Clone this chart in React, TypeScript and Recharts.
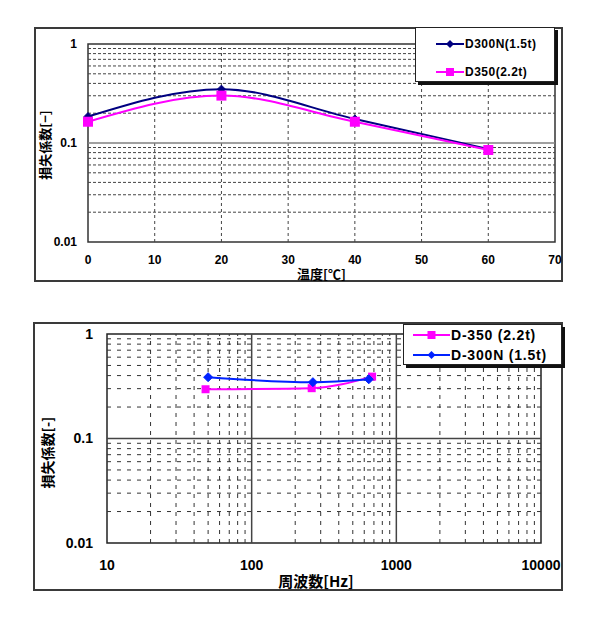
import React from 'react';
import { LineChart, Line, XAxis, YAxis, ReferenceLine, ReferenceArea, Legend } from 'recharts';

// 温度依存 (loss factor vs temperature)
const temperatures = [0, 20, 40, 60];
const d300nByTemp = [0.185, 0.35, 0.175, 0.087];
const d350ByTemp = [0.164, 0.301, 0.164, 0.085];

// 周波数依存 (loss factor vs frequency)
const d350Freq = [48, 260, 680];
const d350ByFreq = [0.296, 0.303, 0.391];
const d300nFreq = [50, 265, 645];
const d300nByFreq = [0.386, 0.346, 0.369];

const tempTicks = [0, 10, 20, 30, 40, 50, 60, 70];
const tempGrid = [10, 20, 30, 40, 50, 60];
const lossTicks = [0.01, 0.1, 1];
const lossMinor = [0.02, 0.03, 0.04, 0.05, 0.06, 0.07, 0.08, 0.09, 0.2, 0.3, 0.4, 0.5, 0.6, 0.7, 0.8, 0.9];
const freqTicks = [10, 100, 1000, 10000];
const freqMajor = [100, 1000];
const freqMinor = [20, 30, 40, 50, 60, 70, 80, 90, 200, 300, 400, 500, 600, 700, 800, 900,
  2000, 3000, 4000, 5000, 6000, 7000, 8000, 9000];

const tempRows = temperatures.map((t, i) => ({ t, d300n: d300nByTemp[i], d350: d350ByTemp[i] }));
const d350Rows = d350Freq.map((f, i) => ({ f, v: d350ByFreq[i] }));
const d300nRows = d300nFreq.map((f, i) => ({ f, v: d300nByFreq[i] }));

const NUM_FONT = '"Liberation Sans", Arial, sans-serif';
const JP_FONT = '"Noto Sans CJK JP", "Liberation Sans", sans-serif';

const diamond = (color: string, r: number) => (p: any) => {
  const { cx, cy, index } = p;
  if (cx == null || cy == null) return <g key={index} />;
  return (
    <polygon key={index} fill={color} stroke={color}
      points={`${cx},${cy - r} ${cx + r},${cy} ${cx},${cy + r} ${cx - r},${cy}`} />
  );
};

const square = (color: string, s: number) => (p: any) => {
  const { cx, cy, index } = p;
  if (cx == null || cy == null) return <g key={index} />;
  return <rect key={index} x={cx - s / 2} y={cy - s / 2} width={s} height={s} fill={color} />;
};

function VTitle(props: any) {
  const { viewBox, text, dx = 0, dy = 0, size = 13 } = props;
  const cx = viewBox.x + dx;
  const cy = viewBox.y + viewBox.height / 2 + dy;
  return (
    <text x={cx} y={cy} transform={`rotate(-90, ${cx}, ${cy})`} textAnchor="middle"
      dominantBaseline="central" fontSize={size} fontWeight="bold" fontFamily={JP_FONT} fill="#000">
      {text}
    </text>
  );
}

function HTitle(props: any) {
  const { viewBox, text, dx = 0, dy = 0, size = 13 } = props;
  return (
    <text x={viewBox.x + viewBox.width / 2 + dx} y={viewBox.y + dy} textAnchor="middle"
      dominantBaseline="central" fontSize={size} fontWeight="bold" fontFamily={JP_FONT} fill="#000">
      {text}
    </text>
  );
}

type LegendItem = { name: string; color: string; marker: 'diamond' | 'square' };

function LegendBox({ items, width, height, rowH, padTop, padLeft, lineLen, markerSize, fontSize, spacing }: any) {
  return (
    <div style={{
      width, height, boxSizing: 'border-box', background: '#fff', border: '1px solid #222',
      boxShadow: '3px 3px 0 #111', paddingTop: padTop, paddingLeft: padLeft,
    }}>
      {items.map((it: LegendItem) => (
        <div key={it.name} style={{ height: rowH, display: 'flex', alignItems: 'center' }}>
          <svg width={lineLen} height={12} style={{ display: 'block' }}>
            <line x1={0} y1={6} x2={lineLen} y2={6} stroke={it.color} strokeWidth={2} />
            {it.marker === 'diamond'
              ? <polygon fill={it.color} points={`${lineLen / 2},${6 - markerSize / 2} ${lineLen / 2 + markerSize / 2},6 ${lineLen / 2},${6 + markerSize / 2} ${lineLen / 2 - markerSize / 2},6`} />
              : <rect x={lineLen / 2 - markerSize / 2} y={6 - markerSize / 2} width={markerSize} height={markerSize} fill={it.color} />}
          </svg>
          <span style={{
            fontFamily: NUM_FONT, fontWeight: 'bold', fontSize, letterSpacing: spacing,
            color: '#000', whiteSpace: 'nowrap', marginLeft: 1,
          }}>{it.name}</span>
        </div>
      ))}
    </div>
  );
}

const topLegend: LegendItem[] = [
  { name: 'D300N(1.5t)', color: '#000080', marker: 'diamond' },
  { name: 'D350(2.2t)', color: '#ff00ff', marker: 'square' },
];
const bottomLegend: LegendItem[] = [
  { name: 'D-350 (2.2t)', color: '#ff00ff', marker: 'square' },
  { name: 'D-300N (1.5t)', color: '#0022ff', marker: 'diamond' },
];

const frame = (left: number, top: number, width: number, height: number): React.CSSProperties => ({
  position: 'absolute', left, top, width, height, boxSizing: 'border-box', border: '2px solid #3a3a3a',
});

export default function App() {
  const tickTop = { fill: '#000', fontSize: 12, fontWeight: 'bold', fontFamily: NUM_FONT };
  const tickBottom = { fill: '#000', fontSize: 14, fontWeight: 'bold', fontFamily: NUM_FONT };

  return (
    <div style={{ position: 'absolute', left: 0, top: 0, width: 600, height: 620, background: '#fff' }}>
      <div style={frame(34, 27, 529, 255)} />
      <div style={frame(33, 322, 530, 269)} />

      <div style={{ position: 'absolute', left: 0, top: 0 }}>
        <LineChart width={600} height={300} data={tempRows} margin={{ top: 44, right: 45, bottom: 18, left: 30 }}>
          <XAxis type="number" dataKey="t" domain={[0, 70]} ticks={tempTicks} interval={0}
            axisLine={false} tickLine={false} tickSize={0} tickMargin={13} tick={tickTop} height={40}
            label={<HTitle text="温度[℃]" dy={31} size={13} />} />
          <YAxis type="number" scale="log" domain={[0.01, 1]} ticks={lossTicks} interval={0} allowDataOverflow
            axisLine={false} tickLine={false} tickSize={0} tickMargin={11} tick={tickTop} width={58}
            label={<VTitle text="損失係数[−]" dx={14} dy={2} size={13} />} />
          {lossMinor.map((v) => (
            <ReferenceLine key={'h' + v} y={v} stroke="#444" strokeDasharray="3 2" strokeWidth={1} />
          ))}
          {tempGrid.map((v) => (
            <ReferenceLine key={'v' + v} x={v} stroke="#444" strokeDasharray="3 3" strokeWidth={1} />
          ))}
          <ReferenceLine y={0.1} stroke="#808080" strokeWidth={1.5} />
          <ReferenceArea x1={0} x2={70} y1={0.01} y2={1} fill="none" fillOpacity={0} stroke="#333" strokeWidth={1.5} />
          <Line type="monotone" dataKey="d300n" name="D300N(1.5t)" stroke="#000080" strokeWidth={2}
            dot={diamond('#000080', 4)} isAnimationActive={false} />
          <Line type="monotone" dataKey="d350" name="D350(2.2t)" stroke="#ff00ff" strokeWidth={2}
            dot={square('#ff00ff', 10)} isAnimationActive={false} />
          <Legend layout="vertical" align="center" verticalAlign="middle"
            wrapperStyle={{ left: 415, top: 27, width: 'auto', height: 'auto' }}
            content={() => (
              <LegendBox items={topLegend} width={140} height={55} rowH={28} padTop={2} padLeft={20}
                lineLen={28} markerSize={8} fontSize={12} spacing={0.5} />
            )} />
        </LineChart>
      </div>

      <div style={{ position: 'absolute', left: 0, top: 310 }}>
        <LineChart width={600} height={290} margin={{ top: 24, right: 59, bottom: 12, left: 47 }}>
          <XAxis type="number" dataKey="f" scale="log" domain={[10, 10000]} ticks={freqTicks} interval={0}
            allowDataOverflow axisLine={false} tickLine={false} tickSize={0} tickMargin={17} tick={tickBottom}
            height={45} label={<HTitle text="周波数[Hz]" dx={-8} dy={37} size={15} />} />
          <YAxis type="number" scale="log" domain={[0.01, 1]} ticks={lossTicks} interval={0} allowDataOverflow
            axisLine={false} tickLine={false} tickSize={0} tickMargin={14} tick={tickBottom} width={60}
            label={<VTitle text="損失係数[-]" dx={0} dy={14} size={14} />} />
          {lossMinor.map((v) => (
            <ReferenceLine key={'h' + v} y={v} stroke="#333" strokeDasharray="4 6" strokeWidth={1} />
          ))}
          {freqMinor.map((v) => (
            <ReferenceLine key={'v' + v} x={v} stroke="#333" strokeDasharray="4 5" strokeWidth={1} />
          ))}
          {freqMajor.map((v) => (
            <ReferenceLine key={'m' + v} x={v} stroke="#444" strokeWidth={1.5} />
          ))}
          <ReferenceLine y={0.1} stroke="#444" strokeWidth={1.5} />
          <ReferenceArea x1={10} x2={10000} y1={0.01} y2={1} fill="none" fillOpacity={0} stroke="#222" strokeWidth={1.5} />
          <Line data={d350Rows} type="monotone" dataKey="v" name="D-350 (2.2t)" stroke="#ff00ff" strokeWidth={2}
            dot={square('#ff00ff', 8)} isAnimationActive={false} />
          <Line data={d300nRows} type="monotone" dataKey="v" name="D-300N (1.5t)" stroke="#0022ff" strokeWidth={2}
            dot={diamond('#0022ff', 4.5)} isAnimationActive={false} />
          <Legend layout="vertical" align="center" verticalAlign="middle"
            wrapperStyle={{ left: 403, top: 14, width: 'auto', height: 'auto' }}
            content={() => (
              <LegendBox items={bottomLegend} width={159} height={41} rowH={20} padTop={0} padLeft={9}
                lineLen={37} markerSize={8} fontSize={14} spacing={0.8} />
            )} />
        </LineChart>
      </div>
    </div>
  );
}
